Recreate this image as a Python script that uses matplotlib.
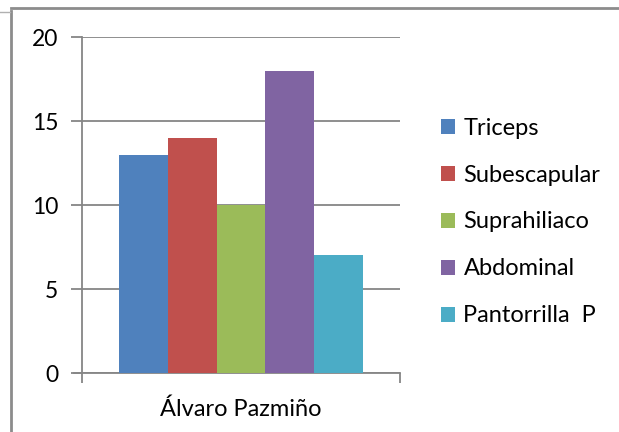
import numpy as np
import matplotlib.pyplot as plt
from matplotlib.lines import Line2D

# data
person = 'Álvaro Pazmiño'
series = ['Triceps', 'Subescapular', 'Suprahiliaco', 'Abdominal', 'Pantorrilla  P']
values = [13, 14, 10, 18, 7]
colors = ['#4F81BD', '#C0504D', '#9BBB59', '#8064A2', '#4BACC6']
yticks = [0, 5, 10, 15, 20]

plt.rcParams['font.family'] = ['Lato', 'DejaVu Sans']

fig = plt.figure(figsize=(6.19, 4.32), dpi=100)
ax = fig.add_axes([82/619, 1-373/432, 318/619, 336/432])

w = 0.154
for i, (s, v, c) in enumerate(zip(series, values, colors)):
    ax.bar((i - 2) * w, v, width=w, color=c, label=s, zorder=3)

ax.set_xlim(-0.5, 0.5)
ax.set_ylim(0, 20)
ax.set_yticks(yticks)
ax.set_xticks([-0.5, 0.5])
ax.set_xticklabels(['', ''])
ax.tick_params(axis='x', length=7, width=1.3, color='#868686', direction='out')
ax.tick_params(axis='y', length=8, width=1.3, color='#868686', direction='out',
               labelsize=16.5, pad=9)
ax.grid(axis='y', color='#868686', linewidth=1.3, zorder=0)
ax.text(0, -0.075, person, transform=ax.get_xaxis_transform(), ha='center',
        va='top', fontsize=17)

for side in ['top', 'right']:
    ax.spines[side].set_visible(False)
ax.spines['left'].set_color('#868686')
ax.spines['left'].set_linewidth(1.3)
ax.spines['bottom'].set_color('#868686')
ax.spines['bottom'].set_linewidth(1.3)
ax.spines['bottom'].set_bounds(-0.5 - 8/318, 0.5)

ax.legend(loc='center left', bbox_to_anchor=(441/619, 1-222/432),
          bbox_transform=fig.transFigure, frameon=False, fontsize=17,
          handlelength=0.6, handleheight=0.6, handletextpad=0.35,
          labelspacing=1.1, borderaxespad=0, borderpad=0)

# outer frame like the spreadsheet border
fig.add_artist(Line2D([11/619, 11/619], [0, 1-11/432], color='#8c8c8c', lw=2,
                      transform=fig.transFigure))
fig.add_artist(Line2D([11/619, 1], [1-7.5/432, 1-7.5/432], color='#8c8c8c', lw=2,
                      transform=fig.transFigure))
fig.add_artist(Line2D([0, 10/619], [1-12/432, 1-12/432], color='#b0b0b0', lw=1,
                      transform=fig.transFigure))

fig.savefig('out.png', dpi=100)
